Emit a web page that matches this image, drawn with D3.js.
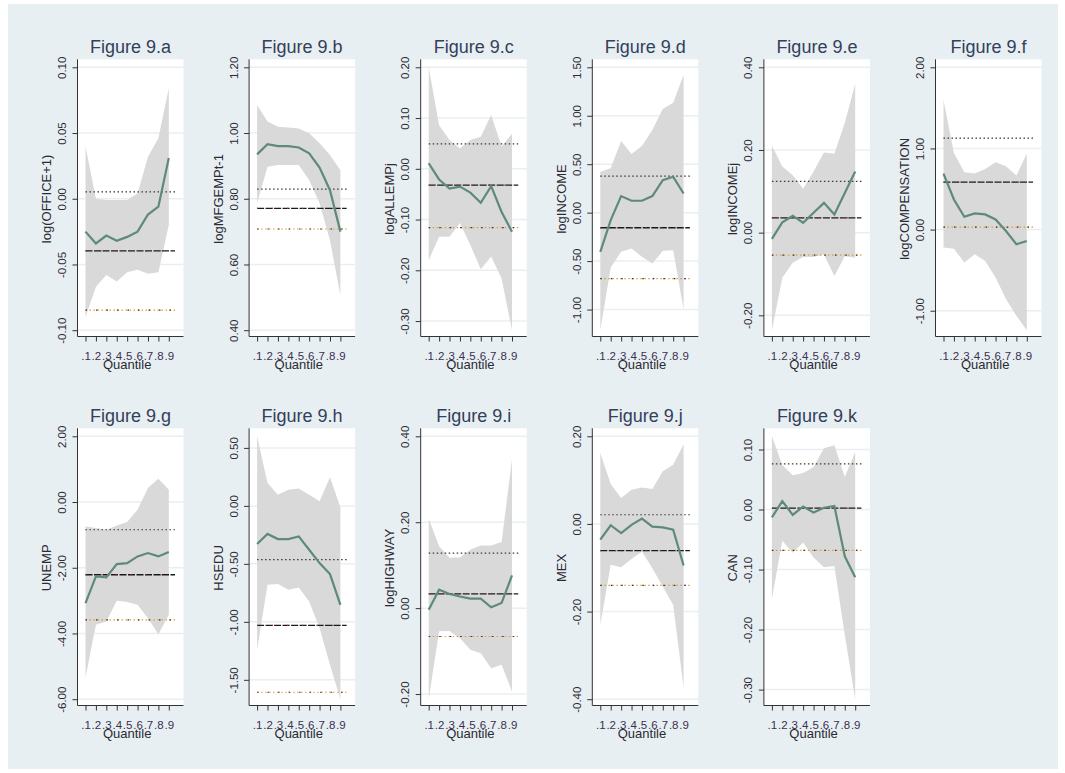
<!DOCTYPE html>
<html><head><meta charset="utf-8">
<script src="https://cdn.jsdelivr.net/npm/d3@7"></script>
<style>body{margin:0;background:#fff}svg{display:block}text{font-family:"Liberation Sans",Arial,sans-serif}</style>
</head><body>
<svg id="chart" width="1065" height="773"></svg>
<script>
const quantiles = [0.1,0.2,0.3,0.4,0.5,0.6,0.7,0.8,0.9];
const quantileLabels = [".1",".2",".3",".4",".5",".6",".7",".8",".9"];
const panelTitles = ["Figure 9.a","Figure 9.b","Figure 9.c","Figure 9.d","Figure 9.e","Figure 9.f","Figure 9.g","Figure 9.h","Figure 9.i","Figure 9.j","Figure 9.k"];
const yTitles = ["log(OFFICE+1)","logMFGEMPt-1","logALLEMPj","logINCOME","logINCOMEj","logCOMPENSATION","UNEMP","HSEDU","logHIGHWAY","MEX","CAN"];
const yTicks = [
  [-0.10,-0.05,0.00,0.05,0.10],
  [0.40,0.60,0.80,1.00,1.20],
  [-0.30,-0.20,-0.10,0.00,0.10,0.20],
  [-1.00,-0.50,0.00,0.50,1.00,1.50],
  [-0.20,0.00,0.20,0.40],
  [-1.00,0.00,1.00,2.00],
  [-6.00,-4.00,-2.00,0.00,2.00],
  [-1.50,-1.00,-0.50,0.00,0.50],
  [-0.20,0.00,0.20,0.40],
  [-0.40,-0.20,0.00,0.20],
  [-0.30,-0.20,-0.10,0.00,0.10]
];
const estimates = [
  [-0.025,-0.034,-0.028,-0.032,-0.029,-0.025,-0.012,-0.006,0.031],
  [0.935,0.966,0.960,0.960,0.956,0.938,0.895,0.826,0.700],
  [0.011,-0.021,-0.039,-0.035,-0.047,-0.067,-0.034,-0.085,-0.124],
  [-0.404,-0.077,0.171,0.123,0.123,0.171,0.336,0.370,0.198],
  [-0.015,0.025,0.041,0.024,0.048,0.072,0.044,0.096,0.148],
  [0.690,0.371,0.158,0.199,0.187,0.125,-0.018,-0.180,-0.140],
  [-3.076,-2.264,-2.294,-1.888,-1.858,-1.655,-1.553,-1.655,-1.523],
  [-0.329,-0.242,-0.286,-0.286,-0.263,-0.378,-0.493,-0.588,-0.853],
  [-0.004,0.043,0.033,0.027,0.022,0.022,0.002,0.012,0.076],
  [-0.036,-0.003,-0.021,-0.002,0.012,-0.006,-0.008,-0.013,-0.095],
  [-0.013,0.014,-0.009,0.005,-0.005,0.003,0.006,-0.078,-0.113]
];
const upperCI = [
  [0.040,0.000,-0.001,-0.001,-0.001,0.004,0.032,0.046,0.084],
  [1.085,1.035,1.019,1.017,1.014,0.999,0.969,0.933,0.887],
  [0.200,0.086,0.057,0.040,0.057,0.063,0.106,0.044,0.069],
  [0.422,0.457,0.739,0.605,0.687,0.853,1.070,1.135,1.420],
  [0.210,0.160,0.139,0.106,0.148,0.194,0.191,0.265,0.360],
  [1.600,0.944,0.707,0.690,0.747,0.830,0.780,0.666,0.936],
  [-0.741,-0.792,-0.843,-0.711,-0.609,-0.234,0.426,0.711,0.376],
  [0.600,0.198,0.097,0.140,0.149,0.097,0.040,0.247,-0.012],
  [0.208,0.144,0.117,0.118,0.136,0.146,0.146,0.154,0.346],
  [0.162,0.091,0.059,0.078,0.083,0.080,0.120,0.135,0.182],
  [0.122,0.074,0.057,0.061,0.071,0.102,0.107,0.054,0.096]
];
const lowerCI = [
  [-0.090,-0.067,-0.058,-0.063,-0.056,-0.054,-0.057,-0.056,-0.020],
  [0.786,0.897,0.903,0.903,0.903,0.857,0.786,0.674,0.507],
  [-0.180,-0.134,-0.134,-0.107,-0.150,-0.198,-0.173,-0.216,-0.318],
  [-1.213,-0.566,-0.404,-0.370,-0.456,-0.525,-0.394,-0.387,-1.000],
  [-0.236,-0.109,-0.073,-0.059,-0.059,-0.053,-0.105,-0.057,-0.061],
  [-0.220,-0.235,-0.407,-0.305,-0.386,-0.590,-0.857,-1.062,-1.240],
  [-5.340,-3.736,-3.635,-3.005,-3.046,-3.127,-3.533,-4.020,-3.430],
  [-1.241,-0.680,-0.674,-0.723,-0.703,-0.824,-1.054,-1.371,-1.667],
  [-0.212,-0.054,-0.053,-0.070,-0.097,-0.105,-0.140,-0.132,-0.194],
  [-0.230,-0.093,-0.099,-0.080,-0.063,-0.101,-0.143,-0.185,-0.373],
  [-0.149,-0.052,-0.072,-0.055,-0.080,-0.096,-0.094,-0.209,-0.316]
];
const olsUpper = [0.0053,0.829,0.049,0.377,0.124,1.128,-0.843,-0.464,0.128,0.021,0.076];
const olsEstimate = [-0.0396,0.771,-0.032,-0.156,0.0356,0.584,-2.213,-1.031,0.033,-0.061,0.0025];
const olsLower = [-0.0848,0.708,-0.116,-0.680,-0.0545,0.031,-3.584,-1.607,-0.066,-0.140,-0.068];
const olsSpan = [0.1,0.96];

const svg = d3.select("#chart");
svg.append("rect").attr("x",8).attr("y",4).attr("width",1050).attr("height",765).attr("fill","#e8eff2");

const plotW = 106;
panelTitles.forEach((title,i)=>{
  const col = i%6, row = Math.floor(i/6);
  const ax = 77.5 + col*171.6;
  const top = 59.3 + row*369;
  const bottom = 336.5 + row*369;
  const g = svg.append("g");
  const lo = Math.min(d3.min(lowerCI[i]), yTicks[i][0]);
  const hi = Math.max(d3.max(upperCI[i]), yTicks[i][yTicks[i].length-1]);
  const y = d3.scaleLinear().domain([lo,hi]).range([bottom-6.3, top+8]);
  const x = d3.scaleLinear().domain([0.1,0.9]).range([ax+8, ax+91.3]);

  g.append("rect").attr("x",ax).attr("y",top).attr("width",plotW).attr("height",bottom-top).attr("fill","#fff");
  g.selectAll(".grid").data(yTicks[i]).join("line")
    .attr("x1",ax).attr("x2",ax+plotW).attr("y1",d=>y(d)).attr("y2",d=>y(d))
    .attr("stroke","#e8eff2").attr("stroke-width",1.5);
  const area = d3.area().x((d,k)=>x(quantiles[k])).y0((d,k)=>y(lowerCI[i][k])).y1(d=>y(d));
  g.append("path").attr("d",area(upperCI[i])).attr("fill","#d9d9d9");
  const hl = (v,color,dash,w)=>g.append("line").attr("x1",x(olsSpan[0])).attr("x2",x(olsSpan[1]))
    .attr("y1",y(v)).attr("y2",y(v)).attr("stroke",color).attr("stroke-width",w).attr("stroke-dasharray",dash);
  hl(olsUpper[i],"#3a3a2a","1.5,2.5",1.2);
  hl(olsEstimate[i],"#1a1a1a","7,1.5",1.3);
  hl(olsEstimate[i],"#b03030","1,14",1.3);
  hl(olsLower[i],"#e39a3a","1.5,2.5",1.2);
  hl(olsLower[i],"#333","1.5,9",1.2);
  const line = d3.line().x((d,k)=>x(quantiles[k])).y(d=>y(d));
  g.append("path").attr("d",line(estimates[i])).attr("fill","none").attr("stroke","#5e8b79").attr("stroke-width",2.2);

  const yAxis = d3.axisLeft(y).tickValues(yTicks[i]).tickSize(5).tickFormat(d3.format(".2f"));
  const ya = g.append("g").attr("transform",`translate(${ax},0)`).call(yAxis);
  ya.select(".domain").attr("d",`M0,${top}V${bottom}`).attr("stroke","#333");
  ya.selectAll(".tick line").attr("stroke","#333");
  ya.selectAll(".tick text").attr("x",null).attr("dy",null)
    .attr("transform","translate(-15.5,0) rotate(-90)")
    .attr("text-anchor","middle").attr("dominant-baseline","central")
    .attr("font-size",11.5).attr("fill","#2a2a33")
    .text(d=>d3.format(".2f")(d).replace("−","-"));
  const xAxis = d3.axisBottom(x).tickValues(quantiles).tickSize(5).tickFormat((d,k)=>quantileLabels[k]);
  const xa = g.append("g").attr("transform",`translate(0,${bottom})`).call(xAxis);
  xa.select(".domain").attr("d",`M${ax},0H${ax+plotW}`).attr("stroke","#333");
  xa.selectAll(".tick line").attr("stroke","#333");
  xa.selectAll(".tick text").attr("y",null).attr("dy",null).attr("y",23).attr("font-size",11.5).attr("fill","#3a3050");
  g.append("text").attr("x",ax+plotW/2).attr("y",top-6.5).attr("text-anchor","middle")
    .attr("font-size",18).attr("fill","#33405a").text(title);
  g.append("text").attr("x",x(0.5)).attr("y",bottom+32).attr("text-anchor","middle")
    .attr("font-size",13).attr("fill","#2a2a33").text("Quantile");
  g.append("text").attr("transform",`translate(${ax-31},${(top+bottom)/2+1}) rotate(-90)`)
    .attr("text-anchor","middle").attr("dominant-baseline","central")
    .attr("font-size",13).attr("fill","#2a2a33").text(yTitles[i]);
});
</script>
</body></html>
